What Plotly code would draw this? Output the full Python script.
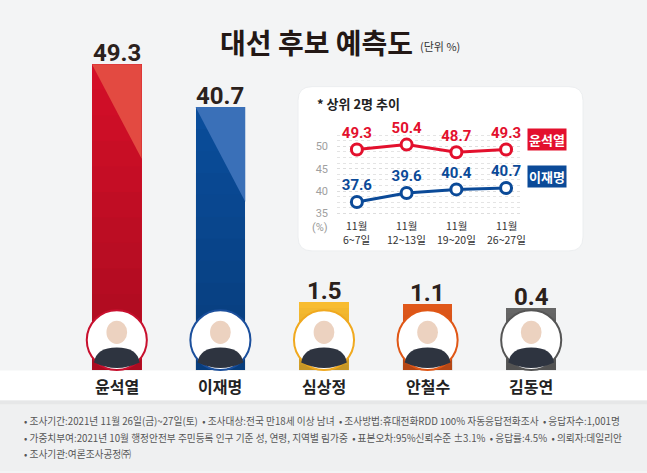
import plotly.graph_objects as go

W, H = 647, 473

# ---------------- data ----------------
candidates = ["윤석열", "이재명", "심상정", "안철수", "김동연"]
support = [49.3, 40.7, 1.5, 1.1, 0.4]
bar_colors = ["#d40f28", "#0a4d9b", "#f8bc30", "#e0581b", "#666666"]
ring_colors = ["#c8102e", "#1b4f9c", "#f0a91f", "#e05716", "#555555"]
shine_colors = ["#e34a41", "#3a70b8", None, None, None]

poll_months = ["11월", "11월", "11월", "11월"]
poll_days = ["6~7일", "12~13일", "19~20일", "26~27일"]
trend_yoon = [49.3, 50.4, 48.7, 49.3]
trend_lee = [37.6, 39.6, 40.4, 40.7]
trend_ticks = [35, 40, 45, 50]

title_text = "대선 후보 예측도"
unit_text = "(단위 %)"
inset_title = "* 상위 2명 추이"
footer_lines = [
    "• 조사기간:2021년 11월 26일(금)~27일(토)  • 조사대상:전국 만18세 이상 남녀  • 조사방법:휴대전화RDD 100% 자동응답전화조사  • 응답자수:1,001명",
    "• 가중치부여:2021년 10월 행정안전부 주민등록 인구 기준 성, 연령, 지역별 림가중  • 표본오차:95%신뢰수준 ±3.1%  • 응답률:4.5%  • 의뢰자:데일리안",
    "• 조사기관:여론조사공정㈜",
]

KR = "Noto Sans CJK KR"
NUM = "Roboto"


def py(px):  # pixel y -> paper y
    return 1 - px / H


def pxx(px):  # pixel x -> paper x
    return px / W


BASE = -12.2  # bars continue below zero behind the photo rings
BAR_W = 0.48

fig = go.Figure()

# main bars
fig.add_trace(go.Bar(
    x=list(range(len(candidates))),
    y=[v - BASE for v in support],
    base=[BASE] * len(support),
    width=BAR_W,
    marker=dict(color=bar_colors, line=dict(width=0)),
    hoverinfo="skip",
    xaxis="x", yaxis="y",
))

# inset line chart
for series, col in ((trend_yoon, "#e3102d"), (trend_lee, "#0b4a98")):
    fig.add_trace(go.Scatter(
        x=list(range(len(series))), y=series,
        mode="lines+markers+text",
        text=[f"{v:.1f}" for v in series], textposition="top center",
        textfont=dict(family=NUM, size=15, color=col, weight="bold"),
        line=dict(color=col, width=3),
        marker=dict(size=11, color="white", line=dict(color=col, width=3)),
        cliponaxis=False, xaxis="x2", yaxis="y2", hoverinfo="skip",
    ))

shapes = []
# background
shapes.append(dict(type="rect", xref="paper", yref="paper", x0=0, x1=1, y0=0, y1=1,
                   fillcolor="#f3f4f5", line_width=0, layer="below"))
# footer area
shapes.append(dict(type="rect", xref="paper", yref="paper", x0=0, x1=1, y0=0, y1=py(402),
                   fillcolor="#eff0f1", line_width=0, layer="below"))
# shadow under white band
shapes.append(dict(type="rect", xref="paper", yref="paper", x0=0, x1=1, y0=py(406), y1=py(402),
                   fillcolor="#e6e7e8", line_width=0, layer="below"))

# vertical shading on bars (darker towards the bottom)
N_STEPS = 12
for i, v in enumerate(support):
    top = v
    span = top - BASE
    for k in range(N_STEPS):
        y_hi = top - span * k / N_STEPS
        y_lo = top - span * (k + 1) / N_STEPS
        shapes.append(dict(type="rect", xref="x", yref="y",
                           x0=i - BAR_W / 2, x1=i + BAR_W / 2, y0=y_lo, y1=y_hi,
                           fillcolor="black", opacity=0.018 * k, line_width=0, layer="above"))

# shine triangles on big bars
for i, (v, sc) in enumerate(zip(support, shine_colors)):
    if sc:
        shapes.append(dict(type="path", xref="x", yref="y",
                           path=f"M {i-BAR_W/2},{v} L {i+BAR_W/2},{v} L {i+BAR_W/2},{v-19} Z",
                           fillcolor=sc, line_width=0, layer="above"))

# white band for names
shapes.append(dict(type="rect", xref="paper", yref="paper", x0=0, x1=1, y0=py(402), y1=py(372),
                   fillcolor="#ffffff", line_width=0, layer="above"))

# photo rings
for i, rc in enumerate(ring_colors):
    shapes.append(dict(type="circle", xref="x", yref="y",
                       x0=i - 0.29, x1=i + 0.29, y0=BASE + 0.1, y1=-0.1,
                       fillcolor="#ffffff", line=dict(color=rc, width=2), layer="above"))
    # simple portrait silhouette: head and shoulders
    shapes.append(dict(type="circle", xref="x", yref="y",
                       x0=i - 0.1, x1=i + 0.1, y0=-6.9, y1=-2.2,
                       fillcolor="#ecd2c0", line_width=0, layer="above"))
    shapes.append(dict(type="path", xref="x", yref="y",
                       path=f"M {i-0.22},{BASE+1.6} Q {i-0.2},{-7.6} {i},{-7.6} Q {i+0.2},{-7.6} {i+0.22},{BASE+1.6} Q {i},{BASE-0.6} {i-0.22},{BASE+1.6} Z",
                       fillcolor="#2e3440", line_width=0, layer="above"))

# inset card (rounded)
cx0, cx1, cy0, cy1, r = 298, 583, 87, 252, 14
path = (f"M {pxx(cx0+r)},{py(cy0)} L {pxx(cx1-r)},{py(cy0)} Q {pxx(cx1)},{py(cy0)} {pxx(cx1)},{py(cy0+r)} "
        f"L {pxx(cx1)},{py(cy1-r)} Q {pxx(cx1)},{py(cy1)} {pxx(cx1-r)},{py(cy1)} "
        f"L {pxx(cx0+r)},{py(cy1)} Q {pxx(cx0)},{py(cy1)} {pxx(cx0)},{py(cy1-r)} "
        f"L {pxx(cx0)},{py(cy0+r)} Q {pxx(cx0)},{py(cy0)} {pxx(cx0+r)},{py(cy0)} Z")
shapes.append(dict(type="path", xref="paper", yref="paper", path=path,
                   fillcolor="#ffffff", line=dict(color="#eceef0", width=1), layer="below"))

annotations = []


def ann(text, x, y, font, xref="paper", yref="paper", xanchor="center", yanchor="middle", **kw):
    annotations.append(dict(text=text, x=x, y=y, xref=xref, yref=yref, xanchor=xanchor,
                            yanchor=yanchor, showarrow=False, font=font, **kw))


# title
ann(f"<b>{title_text}</b>", pxx(316), py(42), dict(family=KR, size=28, color="#231815", weight=900))
ann(unit_text, pxx(418), py(46), dict(family=KR, size=11, color="#333333"), xanchor="left")

# bar values and names
for i, (name, v) in enumerate(zip(candidates, support)):
    ann(f"<b>{v:.1f}</b>", i, v, dict(family=NUM, size=24, color="#2b211c"),
        xref="x", yref="y", yanchor="bottom", yshift=-5)
    ann(f"<b>{name}</b>", i, py(388), dict(family=KR, size=16, color="#222222"), xref="x")

# inset texts
ann(f"<b>{inset_title}</b>", pxx(315), py(104), dict(family=KR, size=13, color="#222222"), xanchor="left")
ann("(%)", pxx(330), py(228), dict(family=NUM, size=11, color="#9a9a9a"), xanchor="right")
ann("<b>윤석열</b>", pxx(547), py(140), dict(family=KR, size=13, color="#ffffff"),
    bgcolor="#e3102d", borderpad=1)
ann("<b>이재명</b>", pxx(547), py(177), dict(family=KR, size=13, color="#ffffff"),
    bgcolor="#0b4a98", borderpad=1)
for j, (m, d) in enumerate(zip(poll_months, poll_days)):
    ann(m, j, py(226), dict(family=KR, size=10.5, color="#333333"), xref="x2")
    ann(d, j, py(240.5), dict(family=KR, size=10.5, color="#333333"), xref="x2")

# footer
for k, line in enumerate(footer_lines):
    ann(line, pxx(22), py(423 + 16.5 * k), dict(family=KR, size=9.7, color="#555555"), xanchor="left")

# y range for main axis: zero at pixel 311, 5 px per unit
ppu = 5.0
r0 = -(H - 311) / ppu
r1 = r0 + H / ppu

# inset axes: 4.5 px per unit, 50 at pixel 147
ippu = 4.5
y2_lo, y2_hi = 34, 53
y2_d0 = py(147 + (50 - y2_lo) * ippu)
y2_d1 = py(147 - (y2_hi - 50) * ippu)

fig.update_layout(
    width=W, height=H,
    margin=dict(l=0, r=0, t=0, b=0),
    paper_bgcolor="#f3f4f5", plot_bgcolor="rgba(0,0,0,0)",
    showlegend=False,
    bargap=0,
    xaxis=dict(domain=[pxx(65), pxx(583)], range=[-0.5, 4.5], visible=False, fixedrange=True),
    yaxis=dict(domain=[0, 1], range=[r0, r1], visible=False, fixedrange=True),
    xaxis2=dict(domain=[pxx(337), pxx(521)], range=[-0.4, 3.3], anchor="y2",
                showticklabels=False, showgrid=False, zeroline=False, showline=False, ticks="",
                fixedrange=True),
    yaxis2=dict(domain=[y2_d0, y2_d1], range=[y2_lo, y2_hi], anchor="x2",
                tickmode="array", tickvals=trend_ticks, ticktext=[str(t) for t in trend_ticks],
                showgrid=True, gridcolor="#dddddd", griddash="dot", gridwidth=1,
                minor=dict(dtick=1.25, tick0=35, showgrid=True, gridcolor="#e4e4e4", griddash="dot"),
                zeroline=False, showline=False, ticks="", ticklabelstandoff=8,
                tickfont=dict(family=NUM, size=11, color="#a0a0a0"), fixedrange=True),
    shapes=shapes,
    annotations=annotations,
)

fig.write_html(
    "out.html",
    config={"displayModeBar": False},
    post_script="document.body.style.margin='0';document.body.style.overflow='hidden';",
)
